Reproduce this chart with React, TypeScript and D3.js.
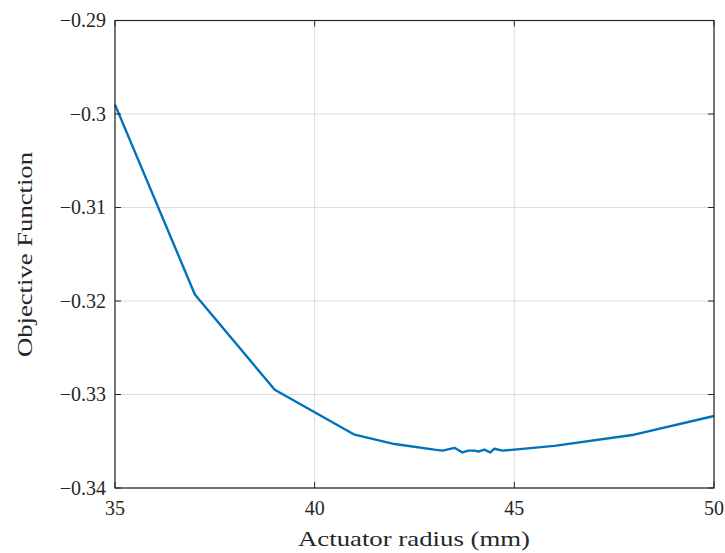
import React, { useEffect, useRef } from "react";
import * as d3 from "d3";

const radius = [35, 37, 39, 41, 42, 43, 43.2, 43.5, 43.7, 43.85, 44.0, 44.1, 44.25, 44.4, 44.5, 44.7, 45, 46, 48, 50];
const objective = [-0.2990, -0.3193, -0.3295, -0.3343, -0.3353, -0.3359, -0.3360, -0.3357, -0.3362, -0.3360, -0.3360, -0.3361, -0.3359, -0.3362, -0.3358, -0.3360, -0.3359, -0.3355, -0.3343, -0.3323];
const xTicks = [35, 40, 45, 50];
const yTicks = [-0.34, -0.33, -0.32, -0.31, -0.3, -0.29];
const xLabel = "Actuator radius (mm)";
const yLabel = "Objective Function";

const W = 725, H = 553;
const L = 115, R = 714, T = 20.5, B = 488;
const SERIF = "'Liberation Serif', 'Times New Roman', Times, serif";

export default function App() {
  const ref = useRef<SVGSVGElement>(null);
  useEffect(() => {
    const svg = d3.select(ref.current);
    svg.selectAll("*").remove();
    const x = d3.scaleLinear().domain([35, 50]).range([L, R]);
    const y = d3.scaleLinear().domain([-0.34, -0.29]).range([B, T]);
    const g = svg.append("g");
    g.append("rect").attr("x", L).attr("y", T).attr("width", R - L).attr("height", B - T).attr("fill", "#fff");
    g.selectAll(".gx").data(xTicks).enter().append("line")
      .attr("x1", d => x(d)).attr("x2", d => x(d)).attr("y1", T).attr("y2", B)
      .attr("stroke", "#dcdcdc").attr("stroke-width", 1);
    g.selectAll(".gy").data(yTicks).enter().append("line")
      .attr("x1", L).attr("x2", R).attr("y1", d => y(d)).attr("y2", d => y(d))
      .attr("stroke", "#dcdcdc").attr("stroke-width", 1);
    const line = d3.line<number>().x((d, i) => x(radius[i])).y(d => y(d));
    g.append("path").datum(objective).attr("d", line).attr("fill", "none")
      .attr("stroke", "#0072BD").attr("stroke-width", 2.4).attr("stroke-linejoin", "round");
    g.append("rect").attr("x", L).attr("y", T).attr("width", R - L).attr("height", B - T)
      .attr("fill", "none").attr("stroke", "#262626").attr("stroke-width", 1.2);
    const tl = 6;
    xTicks.forEach(t => {
      g.append("line").attr("x1", x(t)).attr("x2", x(t)).attr("y1", B).attr("y2", B - tl).attr("stroke", "#262626");
      g.append("line").attr("x1", x(t)).attr("x2", x(t)).attr("y1", T).attr("y2", T + tl).attr("stroke", "#262626");
      g.append("text").attr("x", x(t)).attr("y", B + 27).attr("text-anchor", "middle")
        .style("font-family", SERIF).attr("font-size", 20).attr("fill", "#262626").text(String(t));
    });
    yTicks.forEach(t => {
      g.append("line").attr("x1", L).attr("x2", L + tl).attr("y1", y(t)).attr("y2", y(t)).attr("stroke", "#262626");
      g.append("line").attr("x1", R).attr("x2", R - tl).attr("y1", y(t)).attr("y2", y(t)).attr("stroke", "#262626");
      g.append("text").attr("x", L - 9).attr("y", y(t) + 6.5).attr("text-anchor", "end")
        .style("font-family", SERIF).attr("font-size", 20).attr("fill", "#262626")
        .text("\u2212" + String(Math.abs(t)));
    });
    g.append("text").attr("x", 414).attr("y", 546).attr("text-anchor", "middle")
      .style("font-family", SERIF).attr("font-size", 21).attr("fill", "#262626")
      .attr("textLength", 232).attr("lengthAdjust", "spacingAndGlyphs").text(xLabel);
    g.append("text").attr("transform", `translate(32,${254.5}) rotate(-90)`).attr("text-anchor", "middle")
      .style("font-family", SERIF).attr("font-size", 21).attr("fill", "#262626")
      .attr("textLength", 205).attr("lengthAdjust", "spacingAndGlyphs").text(yLabel);
  }, []);
  return (
    <svg ref={ref} width={W} height={H} style={{ position: "absolute", left: 0, top: 0, background: "#fff" }} />
  );
}
